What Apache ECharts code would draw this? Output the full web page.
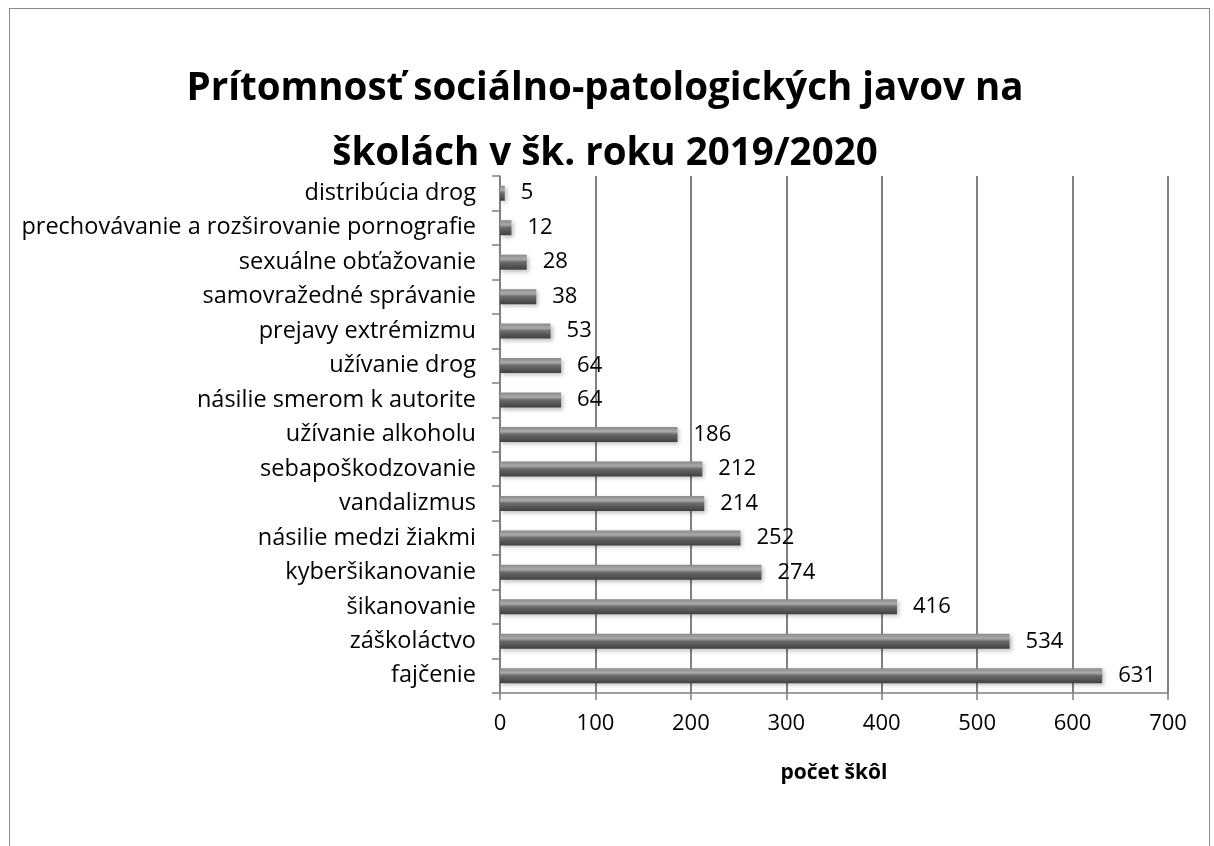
<!DOCTYPE html>
<html><head><meta charset="utf-8">
<script src="https://cdn.jsdelivr.net/npm/echarts@6/dist/echarts.min.js"></script>
<style>
html,body{margin:0;padding:0;background:#fff;}
#frame{position:absolute;left:9px;top:8px;width:1201px;height:900px;border:1.5px solid #8c8c8c;box-sizing:border-box;}
#c{position:absolute;left:0;top:0;width:1214px;height:846px;}
</style></head>
<body><div id="frame"></div><div id="c"></div>
<script>
const titleText = 'Prítomnosť sociálno-patologických javov na\nškolách v šk. roku 2019/2020';
const categories = ['fajčenie','záškoláctvo','šikanovanie','kyberšikanovanie','násilie medzi žiakmi','vandalizmus','sebapoškodzovanie','užívanie alkoholu','násilie smerom k autorite','užívanie drog','prejavy extrémizmu','samovražedné správanie','sexuálne obťažovanie','prechovávanie a rozširovanie pornografie','distribúcia drog'];
const values = [631,534,416,274,252,214,212,186,64,64,53,38,28,12,5];
const xTicks = [0,100,200,300,400,500,600,700];
const xName = 'počet škôl';

const font = 'Open Sans';
const chart = echarts.init(document.getElementById('c'));
chart.setOption({
  animation:false,
  title:{text:titleText,left:600,textAlign:'center',top:52,textStyle:{fontFamily:font,fontWeight:'bold',fontSize:38.5,lineHeight:65,color:'#000'}},
  grid:{left:500,right:46,top:176,bottom:153,containLabel:false},
  xAxis:{type:'value',min:xTicks[0],max:xTicks[xTicks.length-1],interval:100,
    name:xName,nameLocation:'middle',nameGap:70,nameTextStyle:{fontFamily:font,fontWeight:'bold',fontSize:21,color:'#000'},
    axisLine:{show:true,lineStyle:{color:'#808080',width:1.5}},
    axisTick:{show:true,length:7,lineStyle:{color:'#808080',width:1.5}},
    axisLabel:{fontFamily:font,fontSize:22,color:'#000',margin:20},
    splitLine:{show:true,lineStyle:{color:'#808080',width:2}}},
  yAxis:{type:'category',data:categories,
    axisLine:{show:true,lineStyle:{color:'#808080',width:1.5}},
    axisTick:{show:true,length:8,lineStyle:{color:'#808080',width:1.5}},
    axisLabel:{fontFamily:font,fontSize:23.5,color:'#000',margin:24}},
  series:[{type:'bar',data:values,barWidth:15,
    itemStyle:{color:new echarts.graphic.LinearGradient(0,0,0,1,[
      {offset:0,color:'#8a8a8a'},{offset:0.3,color:'#aaaaaa'},{offset:0.5,color:'#6a6a6a'},{offset:1,color:'#404040'}]),
      shadowColor:'rgba(0,0,0,0.25)',shadowBlur:4,shadowOffsetX:2,shadowOffsetY:2},
    label:{show:true,position:'right',distance:16,fontFamily:font,fontSize:22,color:'#000'}}]
});
</script></body></html>
